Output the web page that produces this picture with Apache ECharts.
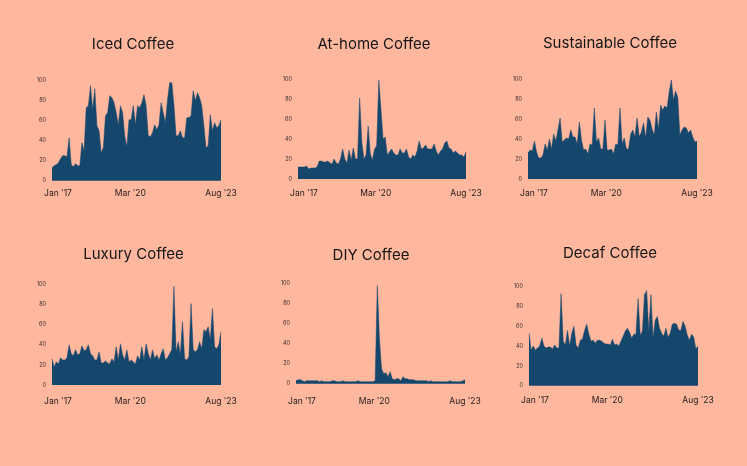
<!DOCTYPE html>
<html>
<head>
<meta charset="utf-8">
<script src="https://cdn.jsdelivr.net/npm/echarts@6/dist/echarts.min.js"></script>
<style>
html,body{margin:0;padding:0;background:#FFB79E;}
#c{width:747px;height:466px;}
</style>
</head>
<body>
<div id="c"></div>
<script>
var months = ["Jan '17","Feb '17","Mar '17","Apr '17","May '17","Jun '17","Jul '17","Aug '17","Sep '17","Oct '17","Nov '17","Dec '17",
"Jan '18","Feb '18","Mar '18","Apr '18","May '18","Jun '18","Jul '18","Aug '18","Sep '18","Oct '18","Nov '18","Dec '18",
"Jan '19","Feb '19","Mar '19","Apr '19","May '19","Jun '19","Jul '19","Aug '19","Sep '19","Oct '19","Nov '19","Dec '19",
"Jan '20","Feb '20","Mar '20","Apr '20","May '20","Jun '20","Jul '20","Aug '20","Sep '20","Oct '20","Nov '20","Dec '20",
"Jan '21","Feb '21","Mar '21","Apr '21","May '21","Jun '21","Jul '21","Aug '21","Sep '21","Oct '21","Nov '21","Dec '21",
"Jan '22","Feb '22","Mar '22","Apr '22","May '22","Jun '22","Jul '22","Aug '22","Sep '22","Oct '22","Nov '22","Dec '22",
"Jan '23","Feb '23","Mar '23","Apr '23","May '23","Jun '23","Jul '23","Aug '23"];

var shownLabels = ["Jan '17", "Mar '20", "Aug '23"];
var yTicks = [0, 20, 40, 60, 80, 100];

var titles = ["Iced Coffee", "At-home Coffee", "Sustainable Coffee", "Luxury Coffee", "DIY Coffee", "Decaf Coffee"];

var icedCoffee = [13,15,16,18,22,25,25,24,43,16,14,17,15,15,38,30,73,75,95,71,92,55,50,28,33,65,68,85,83,78,68,56,75,68,45,34,61,61,75,56,75,73,78,86,75,45,44,48,56,51,56,78,68,58,81,98,98,76,45,45,50,43,43,63,63,65,90,80,88,83,75,55,33,35,66,50,58,53,55,61];

var atHomeCoffee = [12,12,12,12,13,10,11,11,11,12,18,18,17,17,18,16,15,20,16,15,20,30,20,16,29,19,31,20,20,81,37,20,24,53,25,19,30,33,99,70,40,42,24,27,30,26,24,24,30,26,26,30,22,20,24,22,28,38,30,31,34,30,30,30,35,28,24,28,30,36,38,31,30,26,28,26,24,24,22,27];

var sustainableCoffee = [26,29,28,38,27,21,21,24,35,29,40,30,45,38,49,61,37,39,41,40,49,42,42,35,57,39,29,30,25,35,34,71,37,41,30,30,59,29,29,30,25,35,34,71,35,41,30,30,45,49,42,61,42,47,56,41,62,59,50,44,67,50,74,69,73,71,87,99,79,88,82,44,49,52,51,46,49,42,37,38];

var luxuryCoffee = [26,18,23,21,27,25,25,27,40,31,29,35,30,31,39,34,35,40,31,29,25,25,33,22,22,24,22,21,26,23,38,25,41,30,25,35,23,25,23,21,29,25,38,25,41,31,25,35,26,30,25,31,36,25,27,31,35,98,33,43,30,63,26,25,28,81,35,33,35,43,36,55,53,58,45,76,38,36,40,53];

var diyCoffee = [3,4,4,3,2,3,3,3,3,3,3,2,3,2,2,2,2,3,3,2,2,2,3,2,2,2,2,2,2,3,2,2,2,2,2,2,2,3,98,45,15,10,11,7,12,5,4,5,5,3,7,5,5,4,4,4,3,3,3,3,3,3,2,3,2,2,2,2,2,2,2,2,3,2,2,2,2,2,3,4];

var decafCoffee = [53,36,40,36,38,40,48,40,38,39,39,37,41,38,38,93,45,41,56,40,53,60,41,38,46,47,56,62,52,45,46,43,46,46,45,43,42,42,41,47,41,42,40,45,50,55,58,54,48,52,52,88,51,55,92,96,55,92,48,66,70,58,53,50,58,49,53,62,63,62,56,56,65,60,51,46,52,49,37,40];

var seriesData = [icedCoffee, atHomeCoffee, sustainableCoffee, luxuryCoffee, diyCoffee, decafCoffee];

// layout (pixels)
var grids = [
  {left: 52, top: 80.7, width: 169, height: 100, xMargin: 8, tx: 128, ty: 32},
  {left: 298, top: 79, width: 168, height: 100, xMargin: 10, tx: 369, ty: 32},
  {left: 528, top: 79, width: 169, height: 100, xMargin: 10, tx: 605, ty: 31},
  {left: 52, top: 284.5, width: 169, height: 100.5, xMargin: 12, tx: 128.5, ty: 242},
  {left: 296, top: 283.7, width: 169, height: 100, xMargin: 13, tx: 366, ty: 243},
  {left: 529, top: 286.7, width: 169, height: 99, xMargin: 10, tx: 605, ty: 241}
];

var FONT = 'Inter, "Noto Sans", sans-serif';
var areaColor = '#15476D';

var option = {
  backgroundColor: '#FFB79E',
  animation: false,
  title: [],
  grid: [],
  xAxis: [],
  yAxis: [],
  series: []
};

grids.forEach(function (g, i) {
  option.title.push({
    text: titles[i],
    left: g.tx,
    top: g.ty,
    textAlign: 'center',
    textStyle: {fontFamily: FONT, fontSize: 15, fontWeight: 'normal', color: '#161616'}
  });
  option.grid.push({left: g.left, top: g.top, width: g.width, height: g.height});
  option.xAxis.push({
    type: 'category',
    gridIndex: i,
    data: months,
    boundaryGap: false,
    axisTick: {show: false},
    axisLine: {show: false},
    splitLine: {show: false},
    axisLabel: {
      margin: g.xMargin,
      fontFamily: FONT,
      fontSize: 8.5,
      color: '#1b1b1b',
      interval: function (idx, val) { return shownLabels.indexOf(val) >= 0; },
      formatter: function (val, idx) {
        if (idx === 0) return '{first|' + val + '}';
        if (val === shownLabels[1]) return '{mid|' + val + '}';
        return val;
      },
      rich: {
        first: {fontFamily: FONT, fontSize: 8.5, color: '#1b1b1b', padding: [0, 0, 0, 12]},
        mid: {fontFamily: FONT, fontSize: 8.5, color: '#1b1b1b', padding: [0, 6, 0, 0]}
      }
    }
  });
  option.yAxis.push({
    type: 'value',
    gridIndex: i,
    min: yTicks[0],
    max: yTicks[yTicks.length - 1],
    interval: yTicks[1] - yTicks[0],
    axisTick: {show: false},
    axisLine: {show: false},
    splitLine: {show: false},
    axisLabel: {margin: 6, fontFamily: FONT, fontSize: 5.5, color: '#3a2e2a'}
  });
  option.series.push({
    type: 'line',
    xAxisIndex: i,
    yAxisIndex: i,
    data: seriesData[i],
    symbol: 'none',
    lineStyle: {width: 0.5, color: areaColor},
    areaStyle: {color: areaColor, opacity: 1},
    itemStyle: {color: areaColor}
  });
});

var chart = echarts.init(document.getElementById('c'), null, {renderer: 'canvas'});
chart.setOption(option);
</script>
</body>
</html>
